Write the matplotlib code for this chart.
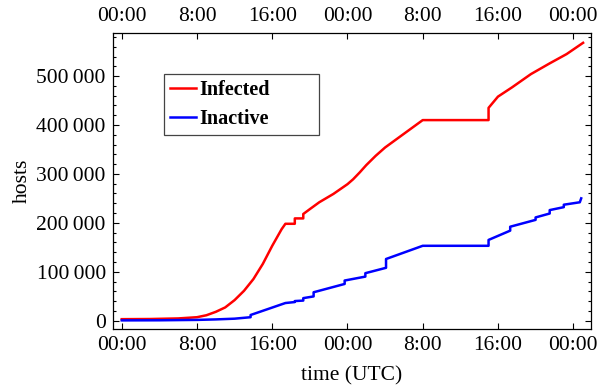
import matplotlib
matplotlib.use("Agg")
import matplotlib.pyplot as plt
from matplotlib.ticker import FuncFormatter, MultipleLocator

plt.rcParams["font.family"] = ["Liberation Serif", "DejaVu Serif"]

# hours since first midnight (UTC)
infected_t = [0, 3, 6, 8, 9, 10, 11, 12, 13, 14, 15, 16, 17, 17.4, 18.4, 18.4,
              19.3, 19.3, 20, 21, 22.5, 24, 24.6, 25.3, 26, 27, 28, 30, 32, 39,
              39, 40, 41.5, 43.5, 45.5, 47.3, 49.05]
infected_v = [3000, 3300, 4500, 7000, 11000, 18000, 27000, 42000, 61000, 85000,
              116000, 153000, 187000, 198000, 198000, 209000, 209000, 218000,
              228000, 242000, 259000, 279000, 289000, 303000, 318000, 337000,
              354000, 382000, 410000, 410000, 435000, 458000, 477000, 504000,
              526000, 545000, 568000]

inactive_t = [0, 4, 8, 10, 12, 13.7, 13.7, 14, 17.4, 18.4, 18.4, 19.3, 19.3,
              20.4, 20.4, 23.7, 23.7, 25.9, 25.9, 28.1, 28.1, 32, 39, 39, 41.3,
              41.3, 44, 44, 45.5, 45.5, 47, 47, 48.7, 48.85]
inactive_v = [500, 700, 1500, 2500, 4000, 7000, 11500, 13500, 36000, 38000,
              40000, 41000, 46000, 49500, 58000, 75000, 82000, 90000, 97000,
              108000, 126000, 153000, 153000, 165000, 184000, 192000, 206000,
              211000, 219000, 226000, 232000, 237000, 242000, 250000]

tick_hours = [0, 8, 16, 24, 32, 40, 48]
tick_labels = ["00:00", "8:00", "16:00", "00:00", "8:00", "16:00", "00:00"]

fig = plt.figure(figsize=(6.06, 3.87), dpi=100)
ax = fig.add_axes([0.186, 0.149, 0.7886, 0.765])

ax.plot(infected_t, infected_v, color="#ff0000", lw=1.8, label="Infected")
ax.plot(inactive_t, inactive_v, color="#0000ff", lw=1.8, label="Inactive")

ax.set_xlim(-0.96, 49.85)
ax.set_ylim(-17800, 587500)

ax.set_xticks(tick_hours)
ax.set_xticklabels(tick_labels)
ax.yaxis.set_major_locator(MultipleLocator(100000))
ax.yaxis.set_minor_locator(MultipleLocator(20000))
ax.yaxis.set_major_formatter(
    FuncFormatter(lambda v, p: f"{int(v):,}".replace(",", "\u2009")))

ax.tick_params(axis="both", which="both", direction="in", top=True,
               right=True, labeltop=True, labelsize=15.5, pad=5, width=0.8)
ax.tick_params(which="major", length=4.5)
ax.tick_params(which="minor", length=2.5)
for s in ax.spines.values():
    s.set_linewidth(0.9)

ax.set_xlabel("time (UTC)", fontsize=15.5, labelpad=8)
ax.set_ylabel("hosts", fontsize=15.5, labelpad=3)

leg = ax.legend(loc="upper left", bbox_to_anchor=(0.107, 0.8635, 0.3246, 0.0),
                mode="expand", fancybox=False, framealpha=1,
                edgecolor="#444444", prop={"weight": "bold", "size": 14.5},
                handlelength=1.3, handletextpad=0.15, labelspacing=0.47,
                borderpad=0.3, borderaxespad=0.0)
leg.get_frame().set_linewidth(0.9)

fig.savefig("out.png", dpi=100)
